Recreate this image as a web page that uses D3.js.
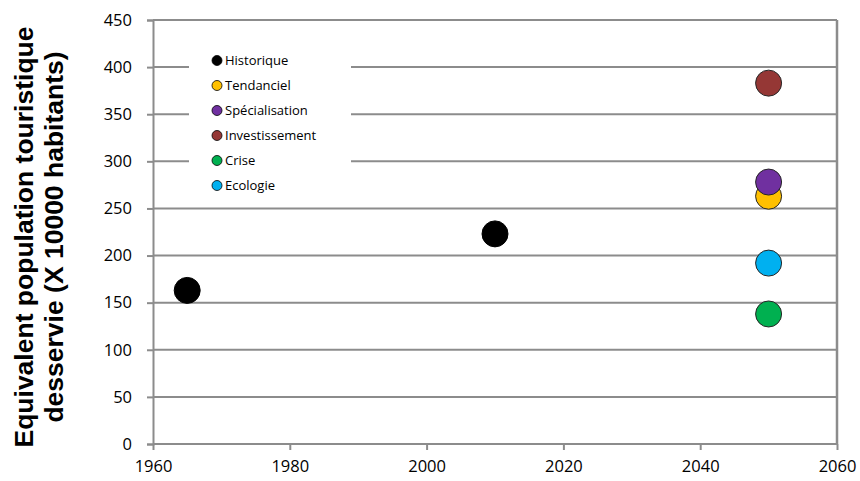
<!DOCTYPE html>
<html>
<head>
<meta charset="utf-8">
<script src="https://cdn.jsdelivr.net/npm/d3@7"></script>
<style>
  body { margin: 0; background: #fff; }
  svg { display: block; }
</style>
</head>
<body>
<svg id="chart"></svg>
<script>
// données
const seriesNames = ["Historique", "Tendanciel", "Spécialisation", "Investissement", "Crise", "Ecologie"];
const seriesColors = ["#000000", "#FFC000", "#7030A0", "#953735", "#00B050", "#00B0F0"];
const seriesYears = [[1965, 2010], [2050], [2050], [2050], [2050], [2050]];
const seriesValues = [[163, 223], [263], [278], [383], [138], [192]];
const xTicks = [1960, 1980, 2000, 2020, 2040, 2060];
const yTicks = [0, 50, 100, 150, 200, 250, 300, 350, 400, 450];
const yTitle = ["Equivalent population touristique", "desservie (X 10000 habitants)"];

const width = 860, height = 481;
const gridColor = "#8c8c8c";
const tickFont = "'Open Sans', sans-serif";

const svg = d3.select("#chart")
  .attr("width", width)
  .attr("height", height);

const x = d3.scaleLinear().domain([1960, 2060]).range([153, 837]);
const y = d3.scaleLinear().domain([0, 450]).range([444, 20]);

// lignes de grille horizontales
svg.append("g")
  .selectAll("line")
  .data(yTicks.filter(d => d > 0))
  .enter()
  .append("line")
  .attr("x1", x(1960)).attr("x2", x(2060))
  .attr("y1", d => y(d)).attr("y2", d => y(d))
  .attr("stroke", gridColor)
  .attr("stroke-width", 2);

// bord droit
svg.append("line")
  .attr("x1", x(2060)).attr("x2", x(2060))
  .attr("y1", y(450)).attr("y2", y(0))
  .attr("stroke", gridColor)
  .attr("stroke-width", 2.5);

// axe Y
const yAxis = svg.append("g")
  .attr("transform", "translate(" + x(1960) + ",0)")
  .call(d3.axisLeft(y).tickValues(yTicks).tickSize(6).tickPadding(15).tickFormat(d3.format("d")));

// axe X
const xAxis = svg.append("g")
  .attr("transform", "translate(0," + y(0) + ")")
  .call(d3.axisBottom(x).tickValues(xTicks).tickSize(6).tickPadding(10).tickFormat(d3.format("d")));

[yAxis, xAxis].forEach(function (g) {
  g.select(".domain").attr("stroke", gridColor).attr("stroke-width", 2);
  g.selectAll(".tick line").attr("stroke", gridColor).attr("stroke-width", 2);
  g.selectAll(".tick text")
    .attr("fill", "#000")
    .style("font-family", tickFont)
    .style("font-size", "16.5px");
});
// l'axe X ne doit pas déborder à gauche
xAxis.select(".domain").attr("d", "M" + x(1960) + ",0H" + x(2060));

// titre de l'axe Y
const title = svg.append("text")
  .attr("transform", "translate(33,237) rotate(-90)")
  .attr("text-anchor", "middle")
  .style("font-family", "'Liberation Sans', Arial, sans-serif")
  .style("font-weight", "bold")
  .style("font-size", "26.5px")
  .attr("fill", "#000");

title.selectAll("tspan")
  .data(yTitle)
  .enter()
  .append("tspan")
  .attr("x", 0)
  .attr("dy", (d, i) => i === 0 ? 0 : 30)
  .text(d => d);

// points
const points = [];
seriesNames.forEach(function (name, i) {
  seriesYears[i].forEach(function (yr, j) {
    points.push({ name: name, color: seriesColors[i], year: yr, value: seriesValues[i][j] });
  });
});

svg.append("g")
  .selectAll("circle")
  .data(points)
  .enter()
  .append("circle")
  .attr("cx", d => x(d.year))
  .attr("cy", d => y(d.value))
  .attr("r", 13)
  .attr("fill", d => d.color)
  .attr("stroke", d => d.color === "#000000" ? "#000" : "#262626")
  .attr("stroke-width", 1);

// légende
const legend = svg.append("g");

legend.append("rect")
  .attr("x", 189).attr("y", 45)
  .attr("width", 162).attr("height", 152)
  .attr("fill", "#fff");

const items = legend.selectAll("g.item")
  .data(seriesNames)
  .enter()
  .append("g")
  .attr("class", "item")
  .attr("transform", (d, i) => "translate(217," + (60.5 + i * 25) + ")");

items.append("circle")
  .attr("r", 5)
  .attr("fill", (d, i) => seriesColors[i])
  .attr("stroke", "#000")
  .attr("stroke-width", 0.8);

items.append("text")
  .attr("x", 8)
  .attr("dy", "0.35em")
  .style("font-family", tickFont)
  .style("font-size", "13px")
  .attr("fill", "#000")
  .text(d => d);
</script>
</body>
</html>
